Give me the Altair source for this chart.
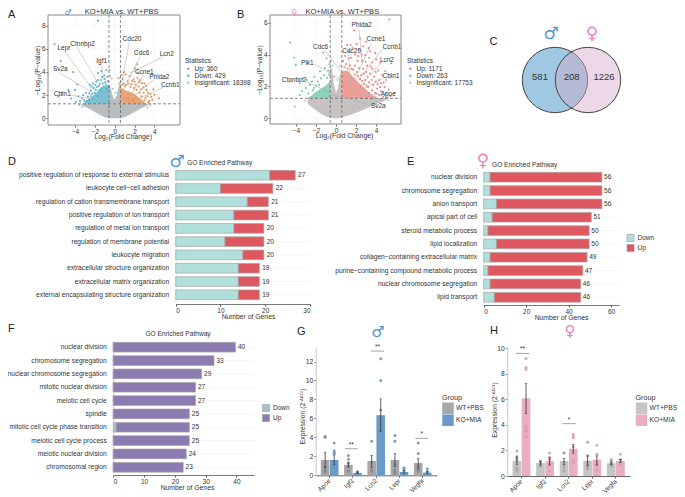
import altair as alt
import pandas as pd

FONT = "Liberation Sans"
W, H = 669, 486
def P(v):
    return v - 8

MALE, FEMALE = "♂", "♀"
MALE_C, FEMALE_C = "#4f93d2", "#ee7fbd"
TXT = "#333333"

# ---------------- volcano values
A_MASS_X = [-3.4, -3.0, -2.5, -2.0, -1.5, -1.0, -0.58, 0.0, 0.58, 1.0, 1.5, 2.0, 2.5, 3.0, 3.4]
A_MASS_LO = [1.2, 1.0, 0.8, 0.55, 0.3, 0.12, 0.03, 0.0, 0.03, 0.12, 0.3, 0.55, 0.8, 1.0, 1.2]
A_SPIKE_X = [-0.58, -0.4, -0.2, 0.0, 0.2, 0.4, 0.58]
A_SPIKE_HI = [3.0, 2.6, 1.9, 1.6, 2.0, 2.7, 3.2]
A_BLUE_X = [-3.0, -2.5, -2.0, -1.5, -1.0, -0.58]
A_BLUE_HI = [1.4, 1.7, 2.1, 2.55, 2.75, 2.9]
A_OR_X = [0.58, 1.0, 1.5, 2.0, 2.5, 3.0]
A_OR_HI = [2.7, 2.45, 2.3, 2.1, 1.75, 1.4]
A_DOWN = [(-1.68,8.43),(-6.05,6.39),(-5.44,4.95),(-4.2,4.0),(-3.76,2.92),(-4.0,2.45),(-4.67,2.45),(-5.67,1.87),
          (-5.33,2.2),(-0.85,4.17),(-1.35,4.08),(-1.68,3.9),(-2.2,3.0),(-2.5,2.9),(-1.4,3.3),(-1.85,3.15),(-3.3,1.75),
          (-2.9,2.2),(-3.1,1.6),(-2.7,1.85),(-2.4,2.4),(-2.1,2.6),(-1.9,2.45),(-1.6,2.8),(-1.2,3.0),(-1.0,3.4),(-0.7,3.2),
          (-0.9,2.9),(-0.65,2.7),(-3.5,1.5),(-2.8,1.5),(-2.6,1.6),(-2.4,1.9),(-2.25,2.1),(-2.0,2.2),(-1.8,2.7),(-1.5,3.0),
          (-1.3,2.6),(-1.1,2.75),(-0.8,2.5),(-4.4,1.7),(-3.9,1.4),(-2.15,1.7),(-1.75,1.9),(-1.45,2.4),(-0.75,3.6),(-1.05,3.7),
          (-3.2,2.0),(-3.0,1.45),(-2.55,2.15),(-2.3,2.75),(-1.95,2.9),(-1.7,3.3),(-1.25,3.55),(-0.95,3.1),(-3.65,1.9)]
A_UP = [(2.28,4.66),(2.05,4.3),(3.15,2.8),(4.45,1.72),(3.2,2.45),(2.9,2.65),(2.55,3.3),(3.8,1.6),(3.6,2.1),(3.9,2.5),
        (3.0,3.0),(2.3,3.5),(1.9,3.35),(1.5,3.65),(1.1,3.8),(0.8,3.4),(1.3,3.2),(1.7,2.95),(2.1,2.9),(2.4,2.75),(2.65,2.5),
        (2.9,2.2),(3.3,1.9),(3.5,1.5),(3.0,1.55),(2.7,1.9),(2.5,2.2),(2.2,2.45),(1.95,2.6),(1.6,2.7),(1.2,2.9),(0.9,3.0),
        (0.7,3.75),(3.1,1.75),(3.4,1.4),(4.0,2.05),(2.75,3.05),(2.35,3.95),(0.95,4.0),(1.85,1.55),(1.35,1.7),
        (3.35,2.2),(3.7,1.85),(2.45,3.1),(1.75,3.2),(1.4,3.0),(1.05,2.8),(0.75,2.9),(2.0,3.15)]
A_GRAY = [(-0.5,4.15),(-0.3,3.45),(0.3,3.5),(0.45,3.0),(-0.2,2.55),(0.1,2.2),(-0.45,3.7),(3.6,1.15),(-3.6,1.15),(-3.3,1.0),(3.3,0.95),(0.5,3.45)]

B_MASS_X = [-2.8, -2.0, -1.0, -0.58, 0.0, 0.58, 1.0, 2.0, 3.0, 4.0, 5.0]
B_MASS_LO = [0.9, 0.5, 0.12, 0.05, 0.0, 0.05, 0.12, 0.35, 0.6, 0.9, 1.15]
B_SPIKE_X = [-0.58, -0.4, -0.2, 0.0, 0.2, 0.4, 0.58]
B_SPIKE_HI = [3.3, 3.0, 2.1, 1.6, 1.9, 2.8, 3.0]
B_GR_X = [-2.8, -2.5, -2.0, -1.5, -1.0, -0.58]
B_GR_HI = [1.3, 1.4, 1.65, 1.85, 2.05, 2.3]
B_RED_X = [0.58, 1.0, 1.5, 2.0, 2.5, 3.0, 3.5, 4.0]
B_RED_HI = [2.9, 3.0, 2.75, 2.4, 2.1, 1.8, 1.5, 1.35]
B_DOWN = [(-4.58,4.75),(-4.18,3.8),(-4.0,3.35),(-1.27,4.12),(-0.94,3.76),(-0.77,3.0),(-4.58,2.3),(-2.9,2.4),(-2.6,2.1),
          (-2.4,2.3),(-2.2,1.9),(-3.3,2.5),(-3.0,1.9),(-2.0,2.05),(-1.8,2.3),(-1.5,2.5),(-1.2,2.7),(-0.9,2.55),(-0.7,2.75),
          (-1.1,3.15),(-3.4,1.7),(-2.75,1.55),(-2.3,1.75),(-1.7,2.1),(-0.65,3.4),(-1.6,2.95),(-2.15,2.6),(-3.6,1.45)]
B_UP = [(5.3,6.2),(1.8,5.5),(2.4,5.0),(2.7,4.5),(1.1,4.6),(3.0,4.8),(3.4,4.2),(3.9,4.1),(4.4,3.5),(4.0,3.7),(3.3,3.8),
        (2.9,3.95),(2.3,4.3),(1.9,4.0),(1.5,3.8),(2.15,3.6),(2.6,3.6),(3.1,3.3),(3.6,3.1),(4.2,3.0),(4.6,2.7),(5.0,2.4),
        (5.5,3.45),(4.85,1.95),(4.3,2.4),(3.8,2.6),(3.4,2.8),(3.0,2.9),(2.7,3.1),(2.3,3.15),(1.9,3.3),(1.4,3.3),(1.0,3.4),
        (0.7,3.6),(0.9,3.9),(1.3,4.2),(1.65,4.4),(2.1,2.9),(2.5,2.7),(2.9,2.4),(3.3,2.25),(3.7,2.1),(4.1,1.85),(4.5,1.7),
        (5.0,1.55),(5.4,1.4),(4.7,1.35),(4.3,1.45),(3.9,1.6),(3.6,1.75),(3.2,1.95),(2.8,2.15),(2.4,2.45),(1.7,3.05),(4.9,2.95),
        (3.6,3.5),(2.05,4.65),(2.95,3.55),(5.8,1.6),(1.25,3.75),(4.5,2.2),(4.15,2.15),(3.95,2.9),(3.45,3.25),(3.15,2.6),(2.75,2.8),
        (2.2,3.9),(1.55,3.1),(1.15,3.1),(0.85,3.2),(4.75,2.25),(5.25,1.8),(4.4,1.95),(3.95,2.3),(3.55,2.4),(3.05,2.05),(2.6,2.35),
        (2.2,2.65),(1.85,2.75),(5.1,1.3),(4.0,1.55),(3.3,1.6),(1.45,4.6),(2.55,4.0),(3.25,4.4)]
B_GRAY = [(-0.5,3.6),(-0.35,3.3),(0.4,3.3),(-0.2,2.6),(0.15,2.4),(-4.1,0.73),(-3.1,1.1),(5.2,1.15),(4.6,1.1),(-0.45,3.0)]

LBL_GENES_A = ["Ctnnbp2","Lepr","Igf1","Sv2a","Cbln1","Cdc20","Cdc6","Lcn2","Ccne1","Phlda2","Ccnb1"]
LBL_A_X = [-3.23,-5.11,-1.31,-5.48,-5.28,1.74,2.72,5.24,2.98,4.5,5.6]
LBL_A_Y = [6.42,6.04,4.97,4.26,2.13,6.85,5.67,5.55,4.03,3.57,2.9]
CON_A_X = [-3.77,-5.01,-1.31,-5.58,-4.5,1.47,2.55,4.9,2.88,3.89,4.9]
CON_A_Y = [6.1,5.75,4.6,3.94,2.01,6.56,5.32,5.32,3.74,3.31,2.68]
CON_A_X2 = [-1.75,-2.32,-1.15,-1.81,-1.81,0.71,0.87,1.54,1.71,1.88,2.55]
CON_A_Y2 = [3.16,2.59,3.31,2.01,1.58,3.02,2.44,3.89,2.16,1.87,1.73]

LBL_GENES_B = ["Phlda2","Ccne1","Ccnb1","Cdc6","Cdc20","Plk1","Lcn2","Cbln1","Ctnnbp2","Apoe","Sv2a"]
LBL_B_X = [2.55,3.98,5.57,-1.53,1.56,-2.85,5.07,5.47,-4.18,5.2,4.21]
LBL_B_Y = [5.86,4.96,4.45,4.48,4.22,3.49,3.64,2.66,2.38,1.55,0.75]
CON_B_X = [2.29,3.55,4.55,-1.09,1.22,-2.16,4.48,4.71,-2.9,4.45,3.45]
CON_B_Y = [5.58,4.75,4.29,4.29,3.97,3.41,3.45,2.51,2.3,1.5,0.83]
CON_B_X2 = [2.62,1.72,2.22,0.73,1.49,0.57,2.06,2.22,0.4,2.72,-0.1]
CON_B_Y2 = [3.45,2.2,2.4,2.72,2.09,2.4,1.78,1.67,1.26,1.5,1.46]

# ---------------- GO bars
D_PATHS = ["positive regulation of response to external stimulus","leukocyte cell−cell adhesion",
           "regulation of cation transmembrane transport","positive regulation of ion transport",
           "regulation of metal ion transport","regulation of membrane potential","leukocyte migration",
           "extracellular structure organization","extracellular matrix organization",
           "external encapsulating structure organization"]
D_DOWN = [21,10,16,13,13,11,15,14,14,14]
D_TOTAL = [27,22,21,21,20,20,20,19,19,19]
E_PATHS = ["nuclear division","chromosome segregation","anion transport","apical part of cell",
           "steroid metabolic process","lipid localization","collagen−containing extracellular matrix",
           "purine−containing compound metabolic process","nuclear chromosome segregation","lipid transport"]
E_DOWN = [3,3,6,4,2,6,3,2,3,5]
E_TOTAL = [56,56,56,51,50,50,49,47,46,46]
F_PATHS = ["nuclear division","chromosome segregation","nuclear chromosome segregation","mitotic nuclear division",
           "meiotic cell cycle","spindle","mitotic cell cycle phase transition","meiotic cell cycle process",
           "meiotic nuclear division","chromosomal region"]
F_DOWN = [0,0,0,0,0,0,1,0,0,0]
F_TOTAL = [40,33,29,27,27,25,25,25,24,23]

# ---------------- qPCR bars
GENES = ["Apoe","Igf2","Lcn2","Lepr","Vegfa"]
GROUPS = ["WT+PBS","KO+MIA"]
G_WT = [1.62,1.1,1.5,1.62,1.3]
G_WT_LO = [0.8,0.85,0.85,0.92,0.75]
G_WT_HI = [2.43,1.35,2.1,2.32,1.8]
G_KO = [1.62,0.25,6.34,0.35,0.28]
G_KO_LO = [1.1,0.15,4.6,0.2,0.15]
G_KO_HI = [2.15,0.35,8.06,0.5,0.4]
G_PTS_WT = [[4.1,4.0,0.9,0.7,0.5,0.4,0.3],[2.1,1.7,1.3,1.0,0.45,0.4],[3.6,1.4,0.6,0.5,0.5,0.4],
            [4.2,3.6,1.2,0.6,0.4,0.3,0.2],[3.4,2.3,1.0,0.7,0.6,0.5,0.4]]
G_PTS_KO = [[3.4,2.6,2.4,2.3,1.3,0.2],[0.4,0.3,0.2,0.15,0.1],[12.3,10.0,6.9,4.3,4.1,4.0,0.7],
            [0.8,0.7,0.5,0.3,0.2,0.1],[0.7,0.4,0.3,0.2,0.15]]
H_WT = [1.17,1.02,1.17,1.2,1.0]
H_WT_LO = [0.89,0.85,0.9,0.8,0.9]
H_WT_HI = [1.57,1.15,1.38,1.57,1.1]
H_KO = [6.08,1.15,2.14,1.28,1.17]
H_KO_LO = [4.9,0.86,1.78,0.86,1.05]
H_KO_HI = [7.26,1.44,2.48,1.57,1.3]
H_PTS_WT = [[1.95,1.45,1.35,1.2,0.65,0.5,0.4],[1.2,1.1,1.0,0.9,0.8,0.75],[1.8,1.8,1.1,0.8,0.6,0.4],
            [2.65,1.6,1.1,0.9,0.7,0.6,0.55],[1.3,1.15,1.0,0.95,0.85,0.8]]
H_PTS_KO = [[9.2,8.5,8.35,3.9,3.7,3.5,3.05],[1.8,1.45,1.3,1.1,1.05,0.95,0.4],[3.25,3.1,3.0,2.3,2.0,1.3,1.1,1.05],
            [2.4,1.7,1.1,0.9,0.8,0.45],[1.7,1.3,1.2,1.1,1.0,0.9]]

VENN_X = [1, 2]
VENN_COUNTS = ["581", "208", "1226"]
VENN_COUNT_X = [0.545, 1.506, 2.485]


def text(s, x, y, size=6.5, color=TXT, align="center", angle=0, font=FONT, weight="normal"):
    return alt.Chart(pd.DataFrame({"t": [s]})).mark_text(
        text=s, fontSize=size, color=color, align=align, baseline="middle",
        angle=angle, font=font, fontWeight=weight
    ).encode(x=alt.value(P(x)), y=alt.value(P(y)))


def swatch_dot(x, y, color):
    return alt.Chart(pd.DataFrame({"a": [0]})).mark_circle(size=9, color=color, opacity=0.9).encode(
        x=alt.value(P(x)), y=alt.value(P(y)))


def volcano(fr, mass_x, mass_lo, spike_x, spike_hi, dn_x, dn_hi, up_x, up_hi, pts_dn, pts_up, pts_gray,
            genes, lx, ly, cx, cy, cx2, cy2, legend_names, colors, xticks, yticks, y_cut, legend_xy, xt):
    l, r, t, b, xd, yd = fr
    sx = alt.Scale(domain=xd, range=[P(l), P(r)], nice=False, zero=False)
    sy = alt.Scale(domain=yd, range=[P(b), P(t)], nice=False, zero=False)
    up_c, dn_c, gr_c = colors
    ax = alt.Axis(orient="bottom", offset=P(b) - H, values=xticks, format="d",
                  title="Log₂(Fold Change)", titleFontSize=6.8, titleFontWeight="normal", titlePadding=-1,
                  titleColor=TXT, titleX=xt, labelFontSize=6.5, labelColor=TXT, tickSize=2, tickColor="#666",
                  domain=False, grid=False, labelPadding=1)
    ay = alt.Axis(orient="left", offset=-P(l), values=yticks, format="d",
                  title="−Log₁₀(P−value)", titleFontSize=6.8, titleFontWeight="normal", titlePadding=1,
                  titleColor=TXT, labelFontSize=6.5, labelColor=TXT, tickSize=2, tickColor="#666",
                  domain=False, grid=False, labelPadding=1)
    X = lambda f: alt.X(f, scale=sx, axis=ax)
    Y = lambda f: alt.Y(f, scale=sy, axis=ay)
    gridx = alt.Chart(pd.DataFrame({"v": xticks})).mark_rule(color="#f1f1f1", strokeWidth=0.6).encode(
        x=X("v:Q"), y=alt.value(P(t)), y2=alt.value(P(b)))
    gridy = alt.Chart(pd.DataFrame({"v": yticks})).mark_rule(color="#f1f1f1", strokeWidth=0.6).encode(
        y=Y("v:Q"), x=alt.value(P(l)), x2=alt.value(P(r)))
    mass = alt.Chart(pd.DataFrame({"x": mass_x, "lo": mass_lo, "hi": [y_cut] * len(mass_x)})).mark_area(
        color=gr_c, opacity=0.95, interpolate="monotone").encode(x=X("x:Q"), y=Y("lo:Q"), y2="hi:Q")
    spike = alt.Chart(pd.DataFrame({"x": spike_x, "hi": spike_hi, "lo": [y_cut] * len(spike_x)})).mark_area(
        color=gr_c, opacity=0.95).encode(x=X("x:Q"), y=Y("hi:Q"), y2="lo:Q")
    dn = alt.Chart(pd.DataFrame({"x": dn_x, "hi": dn_hi, "lo": [y_cut] * len(dn_x)})).mark_area(
        color=dn_c, opacity=0.78, interpolate="monotone").encode(x=X("x:Q"), y=Y("hi:Q"), y2="lo:Q")
    up = alt.Chart(pd.DataFrame({"x": up_x, "hi": up_hi, "lo": [y_cut] * len(up_x)})).mark_area(
        color=up_c, opacity=0.78, interpolate="monotone").encode(x=X("x:Q"), y=Y("hi:Q"), y2="lo:Q")
    rows = ([{"x": a, "y": c, "s": legend_names[0]} for a, c in pts_up] +
            [{"x": a, "y": c, "s": legend_names[1]} for a, c in pts_dn] +
            [{"x": a, "y": c, "s": legend_names[2]} for a, c in pts_gray])
    pts = alt.Chart(pd.DataFrame(rows)).mark_circle(size=4.5, opacity=0.95).encode(
        x=X("x:Q"), y=Y("y:Q"),
        color=alt.Color("s:N", scale=alt.Scale(domain=legend_names, range=list(colors)),
                        legend=alt.Legend(orient="none", legendX=P(legend_xy[0]), legendY=P(legend_xy[1]),
                                          title="Statistics", titleFontSize=6.5, titleFontWeight="normal",
                                          titleColor=TXT, labelColor=TXT, labelFontSize=6.5, symbolSize=6,
                                          rowPadding=-0.8, titlePadding=1, padding=0, labelOffset=3, labelLimit=120)))
    vd = alt.Chart(pd.DataFrame({"v": [-0.58, 0.58]})).mark_rule(color="#555", strokeWidth=0.7, strokeDash=[3, 2]).encode(
        x=X("v:Q"), y=alt.value(P(t)), y2=alt.value(P(b)))
    hd = alt.Chart(pd.DataFrame({"v": [y_cut]})).mark_rule(color="#555", strokeWidth=0.7, strokeDash=[3, 2]).encode(
        y=Y("v:Q"), x=alt.value(P(l)), x2=alt.value(P(r)))
    con = alt.Chart(pd.DataFrame({"x": cx, "y": cy, "x2": cx2, "y2": cy2})).mark_rule(color="#b0b0b0", strokeWidth=0.6).encode(
        x=X("x:Q"), y=Y("y:Q"), x2="x2:Q", y2="y2:Q")
    lab = alt.Chart(pd.DataFrame({"x": lx, "y": ly, "g": genes})).mark_text(fontSize=6.5, color=TXT, font=FONT).encode(
        x=X("x:Q"), y=Y("y:Q"), text="g:N")
    frame = alt.Chart(pd.DataFrame({"a": [0]})).mark_rect(fillOpacity=0, stroke="#8a8a8a", strokeWidth=1).encode(
        x=alt.value(P(l)), x2=alt.value(P(r)), y=alt.value(P(t)), y2=alt.value(P(b)))
    return alt.layer(gridx, gridy, mass, spike, dn, up, pts, vd, hd, con, lab, frame)


def go_bars(paths, down, total, x0, xmax_val, xmax_px, axis_y, top, bottom, down_c, up_c, ticks, tx, legend_xy, dom_c):
    sx = alt.Scale(domain=[0, xmax_val], range=[P(x0), P(xmax_px)], nice=False, zero=True)
    sy = alt.Scale(domain=paths, range=[P(top), P(bottom)], paddingInner=0.27, paddingOuter=0.14)
    ay = alt.Axis(orient="left", offset=-P(x0), title=None, labelFontSize=6.7, labelColor=TXT, labelLimit=220,
                  ticks=False, labelPadding=7, domain=True, domainColor=dom_c, domainWidth=0.7, grid=False)
    ax = alt.Axis(orient="bottom", offset=P(axis_y) - H, values=ticks, format="d", title="Number of Genes",
                  titleFontSize=6.8, titleFontWeight="normal", titlePadding=0, titleColor=TXT, titleX=tx,
                  labelFontSize=6.5, labelColor=TXT, tickSize=2, tickColor="#555", domainColor="#555",
                  domainWidth=0.8, grid=False, labelPadding=1)
    rows = []
    for p, d, tot in zip(paths, down, total):
        rows.append({"p": p, "d": "Down", "n": d, "o": 0})
        rows.append({"p": p, "d": "Up", "n": tot - d - 0.3, "o": 1})
    lines = alt.Chart(pd.DataFrame({"p": paths, "a": [0] * 10, "b": [xmax_val] * 10})).mark_rule(
        color="#f1f1f1", strokeWidth=0.7).encode(
        y=alt.Y("p:N", scale=sy, sort=None, axis=ay), x=alt.X("a:Q", scale=sx, axis=ax), x2="b:Q")
    if legend_xy is not None:
        legend = alt.Legend(orient="none", legendX=P(legend_xy[0]), legendY=P(legend_xy[1]), title=None,
                            labelFontSize=6.5, labelColor=TXT, symbolType="square", symbolSize=49,
                            symbolStrokeColor="#999", symbolStrokeWidth=0.6, rowPadding=0, padding=0, labelOffset=3)
    else:
        legend = None
    color = alt.Color("d:N", scale=alt.Scale(domain=["Down", "Up"], range=[down_c, up_c]), legend=legend)
    bars = alt.Chart(pd.DataFrame(rows)).mark_bar(stroke="#a6a6a6", strokeWidth=0.7).encode(
        x=alt.X("n:Q", stack="zero", scale=sx, axis=ax),
        y=alt.Y("p:N", scale=sy, sort=None, axis=ay),
        color=color, order=alt.Order("o:Q"))
    labels = alt.Chart(pd.DataFrame({"p": paths, "t": total})).mark_text(
        align="left", dx=1.5, fontSize=6.5, color=TXT, font=FONT).encode(
        x=alt.X("t:Q", scale=sx, axis=ax), y=alt.Y("p:N", scale=sy, sort=None, axis=ay), text="t:Q")
    return alt.layer(lines, bars, labels)


def qpcr(x0, x1, y0, y1, ymax, ticks, wt, wtl, wth, ko, kol, koh, pts_wt, pts_ko, colors, pt_colors, pad, legend_xy,
         sig):
    sx = alt.Scale(domain=GENES, range=[P(x0), P(x1)], paddingInner=pad, paddingOuter=0.22)
    so = alt.Scale(domain=GROUPS, paddingInner=0.05, paddingOuter=0)
    sy = alt.Scale(domain=[0, ymax], range=[P(y0), P(y1)], nice=False)
    ax = alt.Axis(orient="bottom", offset=P(y0) - H, title=None, labelAngle=-45, labelAlign="right",
                  labelBaseline="middle", labelFontSize=6.5, labelColor=TXT, tickSize=2, tickColor="#666",
                  domainColor="#666", grid=False, labelPadding=2)
    ay = alt.Axis(orient="left", offset=-P(x0), values=ticks, title=None, format="d", labelFontSize=6.8,
                  labelColor=TXT, tickSize=2, tickColor="#888", domainColor="#c8c8c8", grid=False, labelPadding=1)
    rows = []
    for i, g in enumerate(GENES):
        rows.append({"g": g, "s": GROUPS[0], "m": wt[i], "lo": wtl[i], "hi": wth[i]})
        rows.append({"g": g, "s": GROUPS[1], "m": ko[i], "lo": kol[i], "hi": koh[i]})
    df = pd.DataFrame(rows)
    pr = []
    for i, g in enumerate(GENES):
        pr += [{"g": g, "s": GROUPS[0], "v": v} for v in pts_wt[i]]
        pr += [{"g": g, "s": GROUPS[1], "v": v} for v in pts_ko[i]]
    pdf = pd.DataFrame(pr)
    XA = alt.X("g:N", scale=sx, sort=None, axis=ax)
    XO = alt.XOffset("s:N", scale=so, sort=None)
    YF = lambda f: alt.Y(f, scale=sy, axis=ay)
    bars = alt.Chart(df).mark_bar().encode(
        x=XA, y=YF("m:Q"), xOffset=XO,
        color=alt.Color("s:N", scale=alt.Scale(domain=GROUPS, range=colors),
                        legend=alt.Legend(orient="none", legendX=P(legend_xy[0]), legendY=P(legend_xy[1]), title="Group",
                                          titleFontSize=7.2, titleFontWeight="normal", titleColor=TXT, labelFontSize=6.7,
                                          labelColor=TXT, symbolType="square", symbolSize=132, symbolStrokeWidth=0,
                                          rowPadding=0, titlePadding=1, padding=0, labelOffset=2)))
    ptcol = alt.condition("datum.s == 'WT+PBS'", alt.value(pt_colors[0]), alt.value(pt_colors[1]))
    pts = alt.Chart(pdf).mark_circle(size=9, opacity=0.9).encode(x=XA, xOffset=XO, y=YF("v:Q"), color=ptcol)
    err = alt.Chart(df).mark_rule(color="#333", strokeWidth=0.8).encode(x=XA, xOffset=XO, y=YF("lo:Q"), y2="hi:Q")
    cap1 = alt.Chart(df).mark_tick(color="#333", size=2.6, thickness=0.7, orient="horizontal").encode(
        x=XA, xOffset=XO, y=YF("lo:Q"))
    cap2 = alt.Chart(df).mark_tick(color="#333", size=2.6, thickness=0.7, orient="horizontal").encode(
        x=XA, xOffset=XO, y=YF("hi:Q"))
    layers = [bars, pts, err, cap1, cap2]
    for (a, b, v, star) in sig:
        layers.append(alt.Chart(pd.DataFrame({"v": [v]})).mark_rule(color="#8a8a8a", strokeWidth=0.8).encode(
            y=YF("v:Q"), x=alt.value(P(a)), x2=alt.value(P(b))))
        layers.append(alt.Chart(pd.DataFrame({"v": [v]})).mark_text(text=star, fontSize=6.5, color=TXT, dy=-4, font=FONT).encode(
            y=YF("v:Q"), x=alt.value(P((a + b) / 2))))
    return alt.layer(*layers)


panel_a = volcano((48, 180, 15, 125, [-6.72, 6.58], [-0.58, 8.92]), A_MASS_X, A_MASS_LO, A_SPIKE_X, A_SPIKE_HI,
                  A_BLUE_X, A_BLUE_HI, A_OR_X, A_OR_HI, A_DOWN, A_UP, A_GRAY, LBL_GENES_A, LBL_A_X, LBL_A_Y,
                  CON_A_X, CON_A_Y, CON_A_X2, CON_A_Y2, ["Up: 360", "Down: 429", "Insignificant: 18398"],
                  ("#e28b4d", "#57aec7", "#b4babc"), [-4, -2, 0, 2, 4], [0, 2, 4, 6, 8], 1.25, (185, 58), P(122.7))
panel_b = volcano((270, 401, 15, 124, [-6.57, 6.47], [-0.36, 6.48]), B_MASS_X, B_MASS_LO, B_SPIKE_X, B_SPIKE_HI,
                  B_GR_X, B_GR_HI, B_RED_X, B_RED_HI, B_DOWN, B_UP, B_GRAY, LBL_GENES_B, LBL_B_X, LBL_B_Y,
                  CON_B_X, CON_B_Y, CON_B_X2, CON_B_Y2, ["Up: 1171", "Down: 263", "Insignificant: 17753"],
                  ("#e88479", "#6cc5a1", "#c3bfbf"), [-4, -2, 0, 2, 4], [0, 2, 4, 6], 1.25, (407, 58), P(344))

venn_sx = alt.Scale(domain=[1, 2], range=[P(555), P(588)], nice=False, zero=False)
venn_circ = alt.Chart(pd.DataFrame({"x": VENN_X, "c": ["L", "R"]}))
venn_l = venn_circ.transform_filter("datum.c == 'L'").mark_point(
    filled=True, size=4277, shape="circle", fill="#9fc8e3", fillOpacity=1, stroke="#444", strokeWidth=1).encode(
    x=alt.X("x:Q", scale=venn_sx, axis=None), y=alt.value(P(80)))
venn_r = venn_circ.transform_filter("datum.c == 'R'").mark_point(
    filled=True, size=4277, shape="circle", fill="#d5a9c8", fillOpacity=0.45, stroke="#444", strokeWidth=1).encode(
    x=alt.X("x:Q", scale=venn_sx, axis=None), y=alt.value(P(80)))
venn_t = alt.Chart(pd.DataFrame({"x": VENN_COUNT_X, "t": VENN_COUNTS})).mark_text(
    fontSize=9.5, color="#333", font=FONT).encode(x=alt.X("x:Q", scale=venn_sx, axis=None), y=alt.value(P(77.3)), text="t:N")
panel_c = alt.layer(venn_l, venn_r, venn_t)

panel_d = go_bars(D_PATHS, D_DOWN, D_TOTAL, 175.7, 30, 310, 304, 168.5, 301.5, "#b0dfdc", "#e0585f",
                  [0, 10, 20, 30], P(248), None, "#dddddd")
panel_e = go_bars(E_PATHS, E_DOWN, E_TOTAL, 483.7, 63.6, 618.7, 305, 170.5, 304, "#b0dfdc", "#e0585f",
                  [0, 20, 40, 60], P(561), (626.5, 234), "#dddddd")
panel_f = go_bars(F_PATHS, F_DOWN, F_TOTAL, 113.3, 45.7, 254, 475, 340.5, 474, "#a9c0d4", "#8b7bb0",
                  [0, 10, 20, 30, 40], P(187), (262, 404), "#bbbbbb")

panel_g = qpcr(315.7, 436.7, 475.3, 347.3, 13.5, [0, 2, 4, 6, 8, 10, 12], G_WT, G_WT_LO, G_WT_HI, G_KO, G_KO_LO, G_KO_HI,
               G_PTS_WT, G_PTS_KO, ["#a8a6a6", "#6a9bc8"], ["#8c8c8c", "#7299c0"], 0.24, (442, 394),
               [(345, 357.7, 2.8, "**"), (371, 384, 13.1, "**"), (415.3, 428.3, 3.9, "*")])
panel_h = qpcr(507.3, 630, 476, 348.3, 10, [0, 2, 4, 6, 8, 10], H_WT, H_WT_LO, H_WT_HI, H_KO, H_KO_LO, H_KO_HI,
               H_PTS_WT, H_PTS_KO, ["#c6c5c5", "#e9aebf"], ["#a9a9a9", "#d99db0"], 0.24, (635.5, 394),
               [(516, 529, 9.6, "**"), (562.3, 575.7, 4.1, "*")])

annotations = [
    text("A", 8, 15, 11, "#222", "left"), text("B", 237, 15, 11, "#222", "left"), text("C", 489.5, 42, 11, "#222", "left"),
    text("D", 8, 162, 11, "#222", "left"), text("E", 407, 162, 11, "#222", "left"), text("F", 8, 329, 11, "#222", "left"),
    text("G", 297, 332, 11, "#222", "left"), text("H", 490, 331, 11, "#222", "left"),
    text("KO+MIA vs. WT+PBS", 121.7, 12, 7.6), text("KO+MIA vs. WT+PBS", 342.3, 12, 7.6),
    text("GO Enriched Pathway", 187, 162.5, 6.6, align="left"), text("GO Enriched Pathway", 492, 164.5, 6.6, align="left"),
    text("GO Enriched Pathway", 178, 334, 6.6),
    text(MALE, 68, 13, 8, MALE_C, font="DejaVu Sans", weight="bold"), text(FEMALE, 294, 13, 8, FEMALE_C, font="DejaVu Sans", weight="bold"),
    text(MALE, 551, 34, 17, MALE_C, font="DejaVu Sans", weight="bold"), text(FEMALE, 592, 34, 17, FEMALE_C, font="DejaVu Sans", weight="bold"),
    text(MALE, 177, 162, 17, MALE_C, font="DejaVu Sans", weight="bold"), text(FEMALE, 483, 161, 17, FEMALE_C, font="DejaVu Sans", weight="bold"),
    text(MALE, 378, 332, 15, MALE_C, font="DejaVu Sans", weight="bold"), text(FEMALE, 570, 331, 15, FEMALE_C, font="DejaVu Sans", weight="bold"),
    text("Expression (2", 303, 444.3, 6.8, align="left", angle=270), text("−ΔΔCt", 301.5, 403, 4, align="left", angle=270),
    text(")", 303, 391, 6.8, align="left", angle=270),
    text("Expression (2", 495, 437.7, 6.8, align="left", angle=270), text("−ΔΔCt", 493.5, 396.5, 4, align="left", angle=270),
    text(")", 495, 384.5, 6.8, align="left", angle=270),
    swatch_dot(447.7, 408.5, "#8c8c8c"), swatch_dot(447.7, 420.5, "#7299c0"),
    swatch_dot(641.5, 408.5, "#a9a9a9"), swatch_dot(641.5, 420.5, "#d99db0"),
]

chart = alt.layer(panel_a, panel_b, panel_c, panel_d, panel_e, panel_f, panel_g, panel_h, *annotations).resolve_scale(
    x="independent", y="independent", color="independent", xOffset="independent"
).resolve_axis(x="independent", y="independent").resolve_legend(color="independent").properties(
    width=W, height=H, padding=0, autosize=alt.AutoSizeParams(type="none")
).configure(font=FONT).configure_view(stroke=None)

chart.save("out.html", embed_options={"renderer": "svg", "actions": False})
